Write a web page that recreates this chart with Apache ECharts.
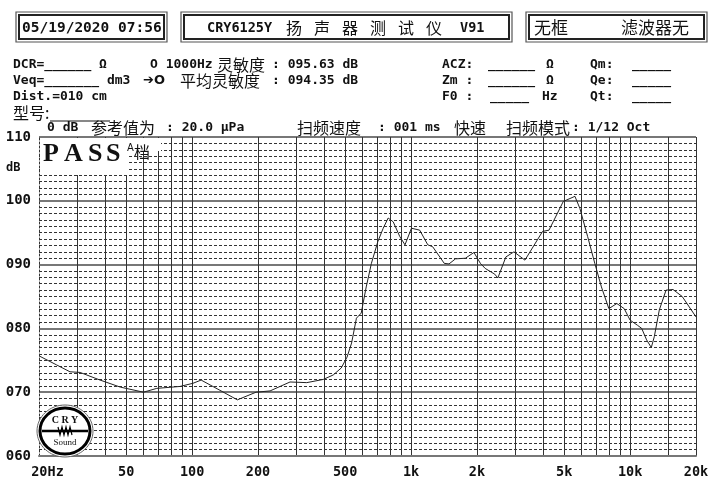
<!DOCTYPE html>
<html><head><meta charset="utf-8">
<script src="https://cdn.jsdelivr.net/npm/echarts@6/dist/echarts.min.js"></script>
<style>html,body{margin:0;padding:0;background:#fff}#c{width:715px;height:486px}</style>
</head><body><div id="c"></div>
<script>
// Frequency response (Hz, dB)
const freqHz = [20,24,27.7,30.8,38,47,60,69,88,101,110,134,161,196,227,280,334,397,441,480,510,535,563,592,624,659,705,746,786,829,888,938,1004,1095,1192,1255,1417,1490,1595,1770,1937,2072,2180,2410,2490,2710,2950,3310,3985,4265,4955,5600,5900,6400,6900,7400,8000,8700,9400,10000,10800,11300,11900,12500,12900,13600,14600,15700,17300,20000];
const splDb = [75.7,74.3,73.2,73.1,71.9,70.8,70.0,70.6,70.9,71.4,71.9,70.3,68.8,70.0,70.2,71.6,71.5,72.0,72.7,73.8,75.5,77.7,81.6,82.4,86.5,90.2,93.6,95.7,97.3,96.7,94.4,93.1,95.7,95.4,93.1,92.8,90.2,90.1,90.9,91.0,91.9,90.2,89.4,88.5,87.9,91.2,92.0,90.7,95.2,95.4,99.9,100.7,98.8,94.4,90.2,86.5,83.1,83.9,83.1,81.3,80.5,80.0,78.2,77.0,78.7,82.9,86.0,86.1,85.0,81.8];
const xLabelValues = [20,50,100,200,500,1000,2000,5000,10000,20000];
const xLabelTexts = ['20Hz','50','100','200','500','1k','2k','5k','10k','20k'];
const gridFreqs = [30,40,50,60,70,80,90,100,200,300,400,500,600,700,800,900,1000,2000,3000,4000,5000,6000,7000,8000,9000,10000,15000,20000];
const yMin = 60, yMax = 110, yStep = 10;

const MONO = '"DejaVu Sans Mono", "Liberation Mono", monospace';
const CJK = '"Noto Sans CJK SC", sans-serif';
const lg = Math.log10;

function T(x, y, text, font, extra) {
  return Object.assign({
    type: 'text', z: 20,
    style: { x: x, y: y, text: text, font: font, fill: '#111',
      align: 'left', verticalAlign: 'middle', textAlign: 'left', textVerticalAlign: 'middle' }
  }, extra || {});
}
function TC(x, y, text, font) {
  const t = T(x, y, text, font);
  t.style.align = 'center'; t.style.textAlign = 'center';
  return t;
}
function box(x1, y1, x2, y2) {
  return [
    { type: 'rect', z: 20, shape: { x: x1, y: y1, width: x2 - x1, height: y2 - y1 }, style: { fill: 'none', stroke: '#555', lineWidth: 1.2 } },
    { type: 'rect', z: 20, shape: { x: x1 + 3, y: y1 + 3, width: x2 - x1 - 6, height: y2 - y1 - 6 }, style: { fill: 'none', stroke: '#222', lineWidth: 2 } }
  ];
}

const mb = 'bold 13px ' + MONO;
const cj = '16px ' + CJK;
const graphics = [];
graphics.push(...box(16, 12, 167, 42), ...box(181, 12, 512, 42), ...box(526, 12, 707, 42));
graphics.push(T(22, 28, '05/19/2020 07:56', 'bold 14.5px ' + MONO));
graphics.push(T(207, 28, 'CRY6125Y', 'bold 13.5px ' + MONO));
['扬','声','器','测','试','仪'].forEach(function (c, i) { graphics.push(TC(294 + i * 28, 28, c, '16px ' + CJK)); });
graphics.push(T(460, 28, 'V91', 'bold 13.5px ' + MONO));
graphics.push(T(534, 28, '无框', '17px ' + CJK));
graphics.push(T(621, 28, '滤波器无', '17px ' + CJK));

// info rows
graphics.push(T(13, 65, 'DCR=______ Ω', mb));
graphics.push(T(150, 65, 'O 1000Hz', mb));
graphics.push(T(217, 65, '灵敏度', cj));
graphics.push(T(272, 65, ': 095.63 dB', mb));
graphics.push(T(442, 65, 'ACZ:', mb), T(488, 65, '______', mb), T(546, 65, 'Ω', mb));
graphics.push(T(590, 65, 'Qm:', mb), T(632, 65, '_____', mb));

graphics.push(T(13, 81, 'Veq=_______ dm3', mb));
graphics.push(T(143, 81, '➔O', 'bold 13px "DejaVu Sans"'));
graphics.push(T(180, 81, '平均灵敏度', cj));
graphics.push(T(272, 81, ': 094.35 dB', mb));
graphics.push(T(442, 81, 'Zm :', mb), T(488, 81, '______', mb), T(546, 81, 'Ω', mb));
graphics.push(T(590, 81, 'Qe:', mb), T(632, 81, '_____', mb));

graphics.push(T(13, 97, 'Dist.=010 cm', mb));
graphics.push(T(442, 97, 'F0 :', mb), T(490, 97, '_____', mb), T(542, 97, 'Hz', mb));
graphics.push(T(590, 97, 'Qt:', mb), T(632, 97, '_____', mb));

graphics.push(T(13, 113, '型号:', cj));
graphics.push({ type: 'line', z: 20, shape: { x1: 50, y1: 121, x2: 110, y2: 121 }, style: { stroke: '#111', lineWidth: 1 } });

graphics.push(T(47, 128, '0 dB', mb));
graphics.push(T(91, 128, '参考值为', cj));
graphics.push(T(166, 128, ': 20.0 μPa', mb));
graphics.push(T(297, 128, '扫频速度', cj));
graphics.push(T(378, 128, ': 001 ms', mb));
graphics.push(T(454, 128, '快速', cj));
graphics.push(T(506, 128, '扫频模式', cj));
graphics.push(T(572, 128, ': 1/12 Oct', mb));

graphics.push(T(6, 168, 'dB', 'bold 12px ' + MONO));

// PASS label area
graphics.push({ type: 'rect', z: 15, shape: { x: 40, y: 138, width: 87, height: 37 }, style: { fill: '#fff' } });
graphics.push({ type: 'rect', z: 15, shape: { x: 127, y: 138, width: 34, height: 13 }, style: { fill: '#fff' } });
const passFont = 'bold 26px "Liberation Serif", serif';
[['P', 43], ['A', 64], ['S', 88], ['S', 106]].forEach(function (p) { graphics.push(T(p[1], 154, p[0], passFont)); });
graphics.push(T(127, 148, 'A', '10px "DejaVu Sans"'));
graphics.push(T(134, 152, '档', '16px ' + CJK));

// logo
graphics.push({ type: 'ellipse', z: 15, shape: { cx: 65, cy: 431, rx: 28, ry: 26 }, style: { fill: '#fff', stroke: '#666', lineWidth: 1 } });
graphics.push({ type: 'ellipse', z: 16, shape: { cx: 65, cy: 431, rx: 25, ry: 23 }, style: { fill: '#fff', stroke: '#000', lineWidth: 3 } });
graphics.push(TC(65, 420, 'C R Y', 'bold 10px "Liberation Serif", serif'));
graphics.push({ type: 'line', z: 20, shape: { x1: 42, y1: 431, x2: 88, y2: 431 }, style: { stroke: '#000', lineWidth: 2.5 } });
graphics.push({ type: 'polyline', z: 20, shape: { points: [[58, 427], [60, 435], [62, 427], [64, 435], [66, 427], [68, 435], [70, 427], [72, 435]] }, style: { stroke: '#000', lineWidth: 1.2, fill: 'none' } });
graphics.push(TC(65, 443, 'Sound', '9px "Liberation Serif", serif'));

const chart = echarts.init(document.getElementById('c'), null, { renderer: 'canvas' });
chart.setOption({
  animation: false,
  backgroundColor: '#fff',
  grid: { left: 39, right: 19, top: 137, bottom: 30, containLabel: false, outerBoundsMode: 'none' },
  xAxis: {
    type: 'value', min: lg(20), max: lg(20000),
    axisLine: { show: true, lineStyle: { color: '#777', width: 2 } },
    axisTick: { show: false, customValues: gridFreqs.map(lg) },
    splitLine: { show: true, lineStyle: { color: '#333', width: 1 } },
    axisLabel: {
      customValues: xLabelValues.map(lg), margin: 9,
      color: '#111', fontFamily: MONO, fontWeight: 'bold', fontSize: 13.5,
      formatter: function (v) {
        let best = 0;
        xLabelValues.forEach(function (f, i) { if (Math.abs(lg(f) - v) < Math.abs(lg(xLabelValues[best]) - v)) best = i; });
        return best === 0 ? '{a|' + xLabelTexts[0] + '}' : xLabelTexts[best];
      },
      rich: { a: { padding: [0, 0, 0, 17], fontFamily: MONO, fontWeight: 'bold', fontSize: 13.5, color: '#111' } }
    }
  },
  yAxis: {
    type: 'value', min: yMin, max: yMax, interval: yStep,
    axisLine: { show: true, lineStyle: { color: '#333', width: 1, type: [2, 2] } },
    axisTick: { show: false },
    splitLine: { show: true, lineStyle: { color: '#777', width: 2 } },
    minorTick: { show: false, splitNumber: 10 },
    minorSplitLine: { show: true, lineStyle: { color: '#333', width: 1, type: [3, 2] } },
    axisLabel: {
      margin: 8, color: '#111', fontFamily: MONO, fontWeight: 'bold', fontSize: 14,
      formatter: function (v) { return String(v).padStart(3, '0'); }
    }
  },
  series: [{
    type: 'line',
    data: freqHz.map(function (f, i) { return [lg(f), splDb[i]]; }),
    showSymbol: false, symbol: 'none', smooth: false, z: 5,
    lineStyle: { color: '#222', width: 1 }
  }],
  graphic: graphics
});
</script>
</body></html>
